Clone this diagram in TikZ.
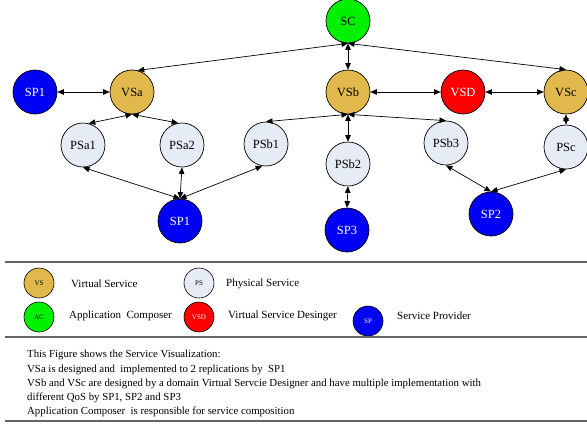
\documentclass[tikz,border=0pt]{standalone}
\usepackage{fontspec}
\setmainfont{Liberation Serif}
\usetikzlibrary{arrows.meta}
\definecolor{vsgold}{RGB}{224,184,76}
\definecolor{pslight}{RGB}{230,236,246}
\definecolor{spblue}{RGB}{0,0,245}
\definecolor{acgreen}{RGB}{0,240,0}
\definecolor{vsdred}{RGB}{250,0,0}
\definecolor{rulegray}{RGB}{100,100,100}
\tikzset{
  svc/.style={circle,draw=black,line width=0.7pt,minimum size=44pt,inner sep=0pt,font=\fontsize{12.5}{12.5}\selectfont},
  vsnode/.style={svc,fill=vsgold},
  psnode/.style={svc,fill=pslight},
  spnode/.style={svc,fill=spblue,text=white},
  scnode/.style={svc,fill=acgreen},
  vsdnode/.style={svc,fill=vsdred,text=white},
  key/.style={circle,draw=black,line width=0.6pt,minimum size=30pt,inner sep=0pt,font=\fontsize{7}{7}\selectfont},
  link/.style={line width=0.7pt,{Triangle[length=6.5pt,width=5.5pt]}-{Triangle[length=6.5pt,width=5.5pt]}},
  keytext/.style={anchor=west,font=\fontsize{11}{11}\selectfont,inner sep=0pt},
  para/.style={anchor=base west,font=\fontsize{10.8}{10.8}\selectfont,inner sep=0pt},
  rule/.style={draw=rulegray,line width=1.4pt}
}
\begin{document}
\begin{tikzpicture}[x=1pt,y=-1pt]
\useasboundingbox (0,0) rectangle (587,424);

% service graph
\node[scnode]  (SC)   at (348,21)  {SC};
\node[spnode]  (SPl)  at (35,92)   {SP1};
\node[vsnode]  (VSa)  at (132,92)  {VSa};
\node[vsnode]  (VSb)  at (348,92)  {VSb};
\node[vsdnode] (VSD)  at (463,92)  {VSD};
\node[vsnode]  (VSc)  at (566,92)  {VSc};
\node[psnode]  (PSa1) at (83,145)  {PSa1};
\node[psnode]  (PSa2) at (182,145) {PSa2};
\node[psnode]  (PSb1) at (266,144) {PSb1};
\node[psnode]  (PSb2) at (348,164) {PSb2};
\node[psnode]  (PSb3) at (446,143) {PSb3};
\node[psnode]  (PSc)  at (566,147) {PSc};
\node[spnode]  (SPb)  at (180,221) {SP1};
\node[spnode]  (SP3)  at (347,230) {SP3};
\node[spnode]  (SP2)  at (491,214) {SP2};

\draw[link] (SC.south) -- (VSa.75);
\draw[link] (SC.south) -- (VSc.north);
\draw[link] (SC.south) -- (VSb.north);
\draw[link] (SPl.east) -- (VSa.west);
\draw[link] (VSb.east) -- (VSD.west);
\draw[link] (VSD.east) -- (VSc.west);
\draw[link] (VSa.south) -- (PSa1.75);
\draw[link] (VSa.south) -- (PSa2.100);
\draw[link] (VSb.south) -- (PSb1.north);
\draw[link] (VSb.south) -- (PSb2.north);
\draw[link] (VSb.south) -- (PSb3.north);
\draw[link] (VSc.south) -- (PSc.north);
\draw[link] (PSa1.south) -- (SPb.north);
\draw[link] (PSa2.south) -- (SPb.north);
\draw[link] (PSb1.260) -- (SPb.north);
\draw[link] (PSb2.south) -- (SP3.north);
\draw[link] (PSb3.south) -- (SP2.north);
\draw[link] (PSc.south) -- (SP2.north);

% legend
\draw[rule] (5,262) -- (587,262);
\node[key,fill=vsgold]  (kVS)  at (39,283)  {VS};
\node[key,fill=pslight] (kPS)  at (199,283) {PS};
\node[key,fill=acgreen] (kAC)  at (39,317)  {AC};
\node[key,fill=vsdred,text=white]  (kVSD) at (199,317) {VSD};
\node[key,fill=spblue,text=white]  (kSP)  at (368,321) {SP};
\node[keytext] (tVS)  at (71,284)  {Virtual Service};
\node[keytext] (tPS)  at (226,284) {Physical Service};
\node[keytext] (tAC)  at (69,316)  {Application\ \ Composer};
\node[keytext] (tVSD) at (228,316) {Virtual Service Desinger};
\node[keytext] (tSP)  at (397,316) {Service Provider};
\draw[rule] (5,337) -- (587,337);

% description
\node[para] (l1) at (27,357) {This Figure shows the Service Visualization:};
\node[para] (l2) at (27,372) {VSa is designed and\ \ implemented to 2 replications by\ \ SP1};
\node[para] (l3) at (27,386) {VSb and VSc are designed by a domain Virtual Servcie Designer and have multiple implementation with};
\node[para] (l4) at (27,400) {different QoS by SP1, SP2 and SP3};
\node[para] (l5) at (27,414) {Application Composer\ \ is responsible for service composition};
\draw[rule] (5,421) -- (587,421);
\end{tikzpicture}
\end{document}
